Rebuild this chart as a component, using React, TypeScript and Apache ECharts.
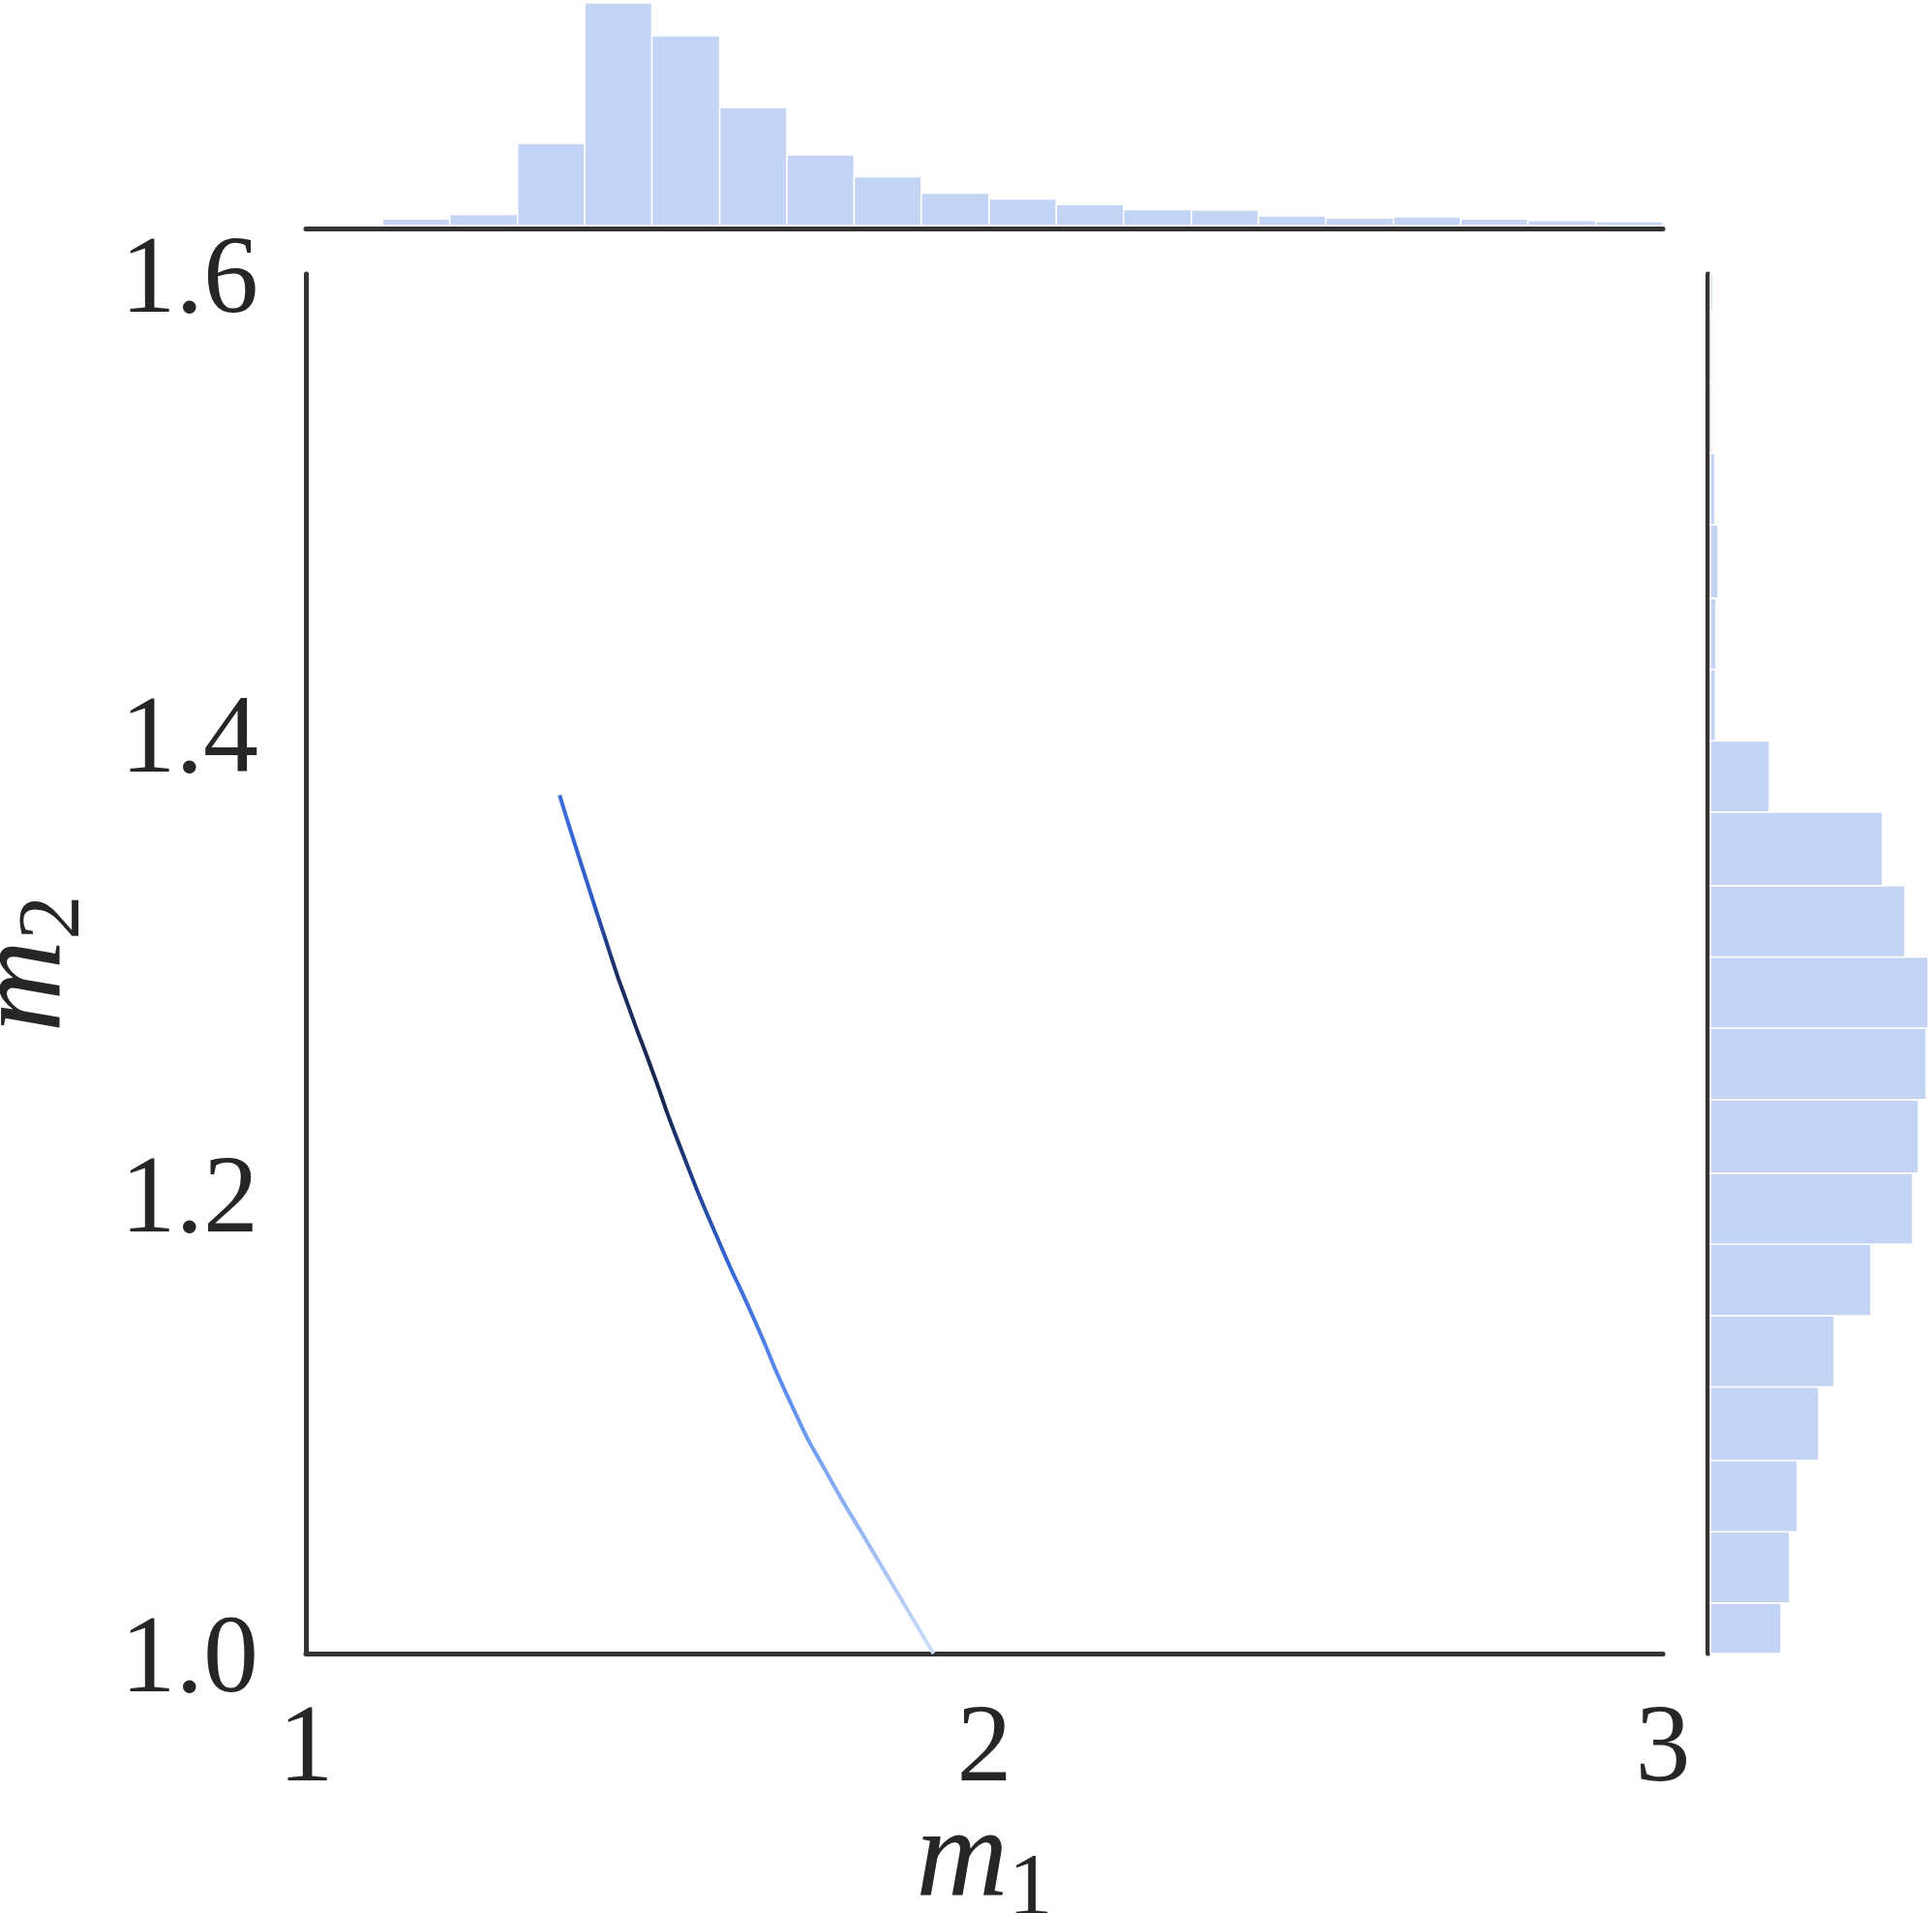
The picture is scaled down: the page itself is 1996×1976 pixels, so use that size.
import React, { useEffect, useRef } from "react";
import * as echarts from "echarts";

// ---- data ----
// marginal histogram of m1 (20 bins)
const m1BinEdges = [
  1.014, 1.113, 1.212, 1.312, 1.411, 1.51, 1.61, 1.709, 1.808, 1.907, 2.007,
  2.106, 2.205, 2.305, 2.404, 2.503, 2.603, 2.702, 2.801, 2.901, 3.0,
];
const m1Counts = [
  1.5, 6.7, 11.5, 85, 230, 196, 122, 73, 50.5, 33.5, 27.5, 21.7, 16.5, 16, 10,
  7.7, 9, 6.7, 5.3, 4,
];

// marginal histogram of m2 (20 bins)
const m2BinEdges = [
  0.991, 1.022, 1.053, 1.084, 1.116, 1.147, 1.178, 1.209, 1.241, 1.272, 1.303,
  1.334, 1.366, 1.397, 1.428, 1.459, 1.491, 1.522, 1.553, 1.584, 1.615,
];
const m2Counts = [
  73, 82, 90, 112, 128, 166, 209, 215, 223, 225, 201, 178, 61, 5.3, 6, 8, 4.7,
  2, 2, 2.5,
];

// joint posterior samples (traced curve)
const curveM1 = [
  1.374, 1.448, 1.4765, 1.51, 1.55, 1.6096, 1.657, 1.719, 1.7665, 1.833,
  1.925,
];
const curveM2 = [
  1.3733, 1.3048, 1.2806, 1.2539, 1.2216, 1.1786, 1.1478, 1.1061, 1.0792,
  1.0457, 1.0,
];

const m1Range = [1, 3];
const m2Range = [1.0, 1.6];
const xTickInterval = 1;
const yTickInterval = 0.2;

const BAR_COLOR = "#c3d4f5";
const AXIS_COLOR = "#333333";
const TEXT_COLOR = "#262626";
const FONT = "'Liberation Serif', 'DejaVu Serif', serif";

const nameRich = {
  m: {
    fontFamily: FONT,
    fontStyle: "italic",
    fontSize: 132,
    verticalAlign: "top",
    color: TEXT_COLOR,
  },
  s: {
    fontFamily: FONT,
    fontSize: 92,
    verticalAlign: "top",
    padding: [54, 0, 0, 0],
    color: TEXT_COLOR,
  },
};

export default function App() {
  const ref = useRef<HTMLDivElement>(null);

  useEffect(() => {
    if (!ref.current) return;
    const chart = echarts.init(ref.current, null, { renderer: "svg" });

    const topData = m1Counts.map((c, i) => [m1BinEdges[i], m1BinEdges[i + 1], c]);
    const rightData = m2Counts.map((c, i) => [m2BinEdges[i], m2BinEdges[i + 1], c]);
    const curveData = curveM1.map((x, i) => [x, curveM2[i]]);

    const option: any = {
      animation: false,
      backgroundColor: "#ffffff",
      grid: [
        { left: 316, top: 283, width: 1402, height: 1425, outerBoundsMode: "none", containLabel: false },
        { left: 316, top: 3, width: 1402, height: 230, outerBoundsMode: "none", containLabel: false },
        { left: 1767, top: 283, width: 225, height: 1425, outerBoundsMode: "none", containLabel: false },
      ],
      xAxis: [
        {
          gridIndex: 0,
          type: "value",
          min: m1Range[0],
          max: m1Range[1],
          interval: xTickInterval,
          axisLine: { show: true, onZero: false, lineStyle: { color: AXIS_COLOR, width: 5 } },
          axisTick: { show: false },
          splitLine: { show: false },
          axisLabel: {
            margin: 35,
            fontFamily: FONT,
            fontSize: 114,
            color: TEXT_COLOR,
          },
          name: "{m|m}{s|1}",
          nameLocation: "middle",
          nameGap: 138,
          nameMoveOverlap: false,
          nameTextStyle: { rich: nameRich },
        },
        {
          gridIndex: 1,
          type: "value",
          min: m1Range[0],
          max: m1Range[1],
          offset: 3,
          axisLine: { show: true, onZero: false, lineStyle: { color: AXIS_COLOR, width: 5 } },
          axisTick: { show: false },
          axisLabel: { show: false },
          splitLine: { show: false },
        },
        {
          gridIndex: 2,
          type: "value",
          min: 0,
          max: 225,
          show: false,
        },
      ],
      yAxis: [
        {
          gridIndex: 0,
          type: "value",
          min: m2Range[0],
          max: m2Range[1],
          interval: yTickInterval,
          axisLine: { show: true, onZero: false, lineStyle: { color: AXIS_COLOR, width: 5 } },
          axisTick: { show: false },
          splitLine: { show: false },
          axisLabel: {
            margin: 49,
            fontFamily: FONT,
            fontSize: 114,
            color: TEXT_COLOR,
            padding: [33, 0, 0, 0],
            formatter: (v: number) => v.toFixed(1),
          },
          name: "{m|m}{s|2}",
          nameLocation: "middle",
          nameGap: 220,
          nameMoveOverlap: false,
          nameTextStyle: { rich: nameRich },
        },
        {
          gridIndex: 1,
          type: "value",
          min: 0,
          max: 230,
          show: false,
        },
        {
          gridIndex: 2,
          type: "value",
          min: m2Range[0],
          max: m2Range[1],
          offset: 3,
          axisLine: { show: true, onZero: false, lineStyle: { color: AXIS_COLOR, width: 5 } },
          axisTick: { show: false },
          axisLabel: { show: false },
          splitLine: { show: false },
        },
      ],
      series: [
        {
          type: "custom",
          xAxisIndex: 1,
          yAxisIndex: 1,
          encode: { x: [0, 1], y: 2 },
          data: topData,
          renderItem: (params: any, api: any) => {
            const x0 = Math.max(api.value(0), m1Range[0]);
            const x1 = Math.min(api.value(1), m1Range[1]);
            const v = api.value(2);
            const a = api.coord([x0, 0]);
            const b = api.coord([x1, v]);
            return {
              type: "rect",
              shape: { x: a[0], y: b[1], width: b[0] - a[0], height: a[1] - b[1] },
              style: { fill: BAR_COLOR, stroke: "#ffffff", lineWidth: 1.5 },
            };
          },
        },
        {
          type: "custom",
          xAxisIndex: 2,
          yAxisIndex: 2,
          encode: { x: 2, y: [0, 1] },
          data: rightData,
          renderItem: (params: any, api: any) => {
            const y0 = Math.max(api.value(0), m2Range[0]);
            const y1 = Math.min(api.value(1), m2Range[1]);
            const v = api.value(2);
            const a = api.coord([0, y0]);
            const b = api.coord([v, y1]);
            return {
              type: "rect",
              shape: { x: a[0], y: b[1], width: b[0] - a[0], height: a[1] - b[1] },
              style: { fill: BAR_COLOR, stroke: "#ffffff", lineWidth: 1.5 },
            };
          },
        },
        {
          type: "line",
          xAxisIndex: 0,
          yAxisIndex: 0,
          data: curveData,
          smooth: 0.7,
          showSymbol: false,
          symbol: "none",
          clip: true,
          lineStyle: {
            width: 4,
            color: new echarts.graphic.LinearGradient(0, 0, 0, 1, [
              { offset: 0, color: "#3d6fdc" },
              { offset: 0.12, color: "#2f5cc8" },
              { offset: 0.2, color: "#1c2f66" },
              { offset: 0.35, color: "#17244d" },
              { offset: 0.45, color: "#1f3d8c" },
              { offset: 0.55, color: "#3567d8" },
              { offset: 0.7, color: "#5e8fee" },
              { offset: 0.85, color: "#93b5f5" },
              { offset: 1, color: "#cfdefb" },
            ]),
          },
          z: 5,
        },
      ],
    };

    chart.setOption(option);
    return () => chart.dispose();
  }, []);

  return (
    <div
      ref={ref}
      style={{ position: "fixed", left: 0, top: 0, width: 1996, height: 1976, background: "#fff" }}
    />
  );
}
